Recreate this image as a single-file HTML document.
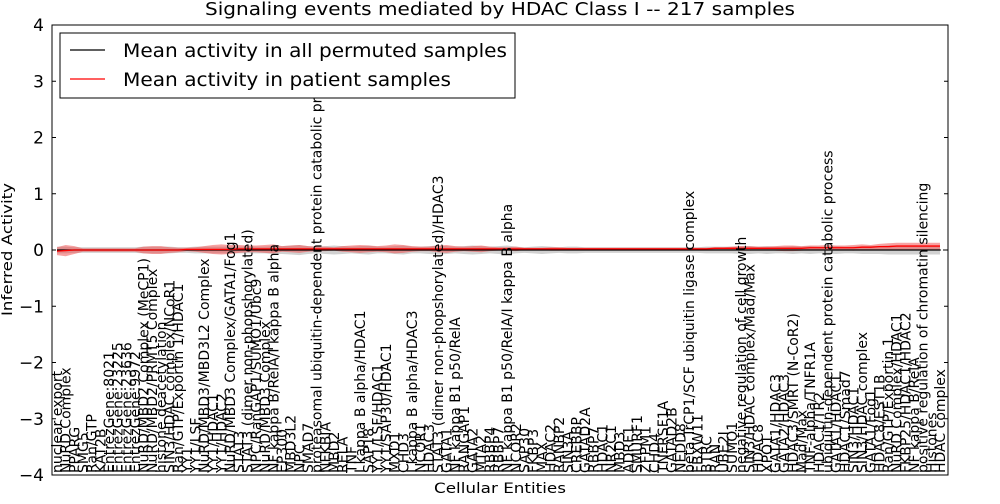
<!DOCTYPE html>
<html><head><meta charset="utf-8"><style>
body{margin:0;background:#fff;font-family:"DejaVu Sans","Liberation Sans",sans-serif}
svg text{font-family:"DejaVu Sans","Liberation Sans",sans-serif}
</style></head><body>
<svg id="chart" width="1000" height="500" xmlns="http://www.w3.org/2000/svg">
<rect width="1000" height="500" fill="#fff"/>
<text x="205" y="15" font-size="18" textLength="590" lengthAdjust="spacingAndGlyphs">Signaling events mediated by HDAC Class I -- 217 samples</text>
<g id="bands"></g>
<g id="lines"></g>
<g id="xlabels"></g>
<rect x="52" y="25" width="896" height="450" fill="none" stroke="#000" stroke-width="1"/>
<g id="yaxis"></g>
<text x="434" y="493" font-size="14" textLength="132" lengthAdjust="spacingAndGlyphs">Cellular Entities</text>
<text transform="translate(12,316) rotate(-90)" font-size="14" textLength="133" lengthAdjust="spacingAndGlyphs">Inferred Activity</text>
<g>
<rect x="60" y="33" width="455" height="65" fill="#fff" stroke="#000"/>
<line x1="70" y1="50" x2="105" y2="50" stroke="#000" stroke-width="1.2"/>
<text x="123" y="57" font-size="19" textLength="384" lengthAdjust="spacingAndGlyphs">Mean activity in all permuted samples</text>
<line x1="70" y1="79" x2="105" y2="79" stroke="#f00" stroke-width="1.2"/>
<text x="123" y="86" font-size="19" textLength="328" lengthAdjust="spacingAndGlyphs">Mean activity in patient samples</text>
</g>
</svg>
<script>
const categories=["nuclear export","NuRD Complex","PPARG","SMG5","Ran/GTP","KAT2B","EntrezGene:8021","EntrezGene:23225","EntrezGene:23636","EntrezGene:9972","NuRD/MBD2 Complex (MeCP1)","NuRD/MBD2/PRMT5 Complex","histone deacetylation","SIN3/HDAC complex/NCoR1","Ran/GTP/Exportin 1/HDAC1","YY1","YY1/LSF","NuRD/MBD3/MBD3L2 Complex","YY1/HDAC1","YY1/HDAC2","NuRD/MBD3 Complex/GATA1/Fog1","STAT3","STAT3 (dimer non-phopshorylated)","NPC/RanGAP1/SUMO1/Ubc9","NuRD/MBD3 Complex","NF kappa B/RelA/I kappa B alpha","EP300","MBD3L2","NPC","SMAD7","proteasomal ubiquitin-dependent protein catabolic pr","NFKBIA","MBD2","RELA","TNF","I kappa B alpha/HDAC1","SAP18","YY1/LSF/HDAC1","YY1/SAP30/HDAC1","MXD1","CHD3","I kappa B alpha/HDAC3","NCOR1","HDAC3","STAT3 (dimer non-phopshorylated)/HDAC3","GATA1","NF kappa B1 p50/RelA","RANGAP1","GATA2","MTA2","RBBP4","RBBP7","NF kappa B1 p50/RelA/I kappa B alpha","NCOR2","SAP30","FKBP3","MAX","HDAC2","RANBP2","SIN3A","CREBBP","GATAD2A","RBBP7","HDAC1","NR2C1","MBD3","ADRF1","SMURF1","ZFPM1","CHD4","TNFRSF1A","GATAD2B","NEDD8","beta TrCP1/SCF ubiquitin ligase complex","FBXW11","BTRC","RAN","UBE2I","SUMO1","negative regulation of cell growth","SIN3/HDAC complex/Mad/Max","HDAC8","XPO1","GATA1/HDAC3","GATA2/HDAC3","HDAC3/SMRT (N-CoR2)","Mad/Max","TNF-alpha/TNFR1A","HDAC1/TR2","ubiquitin-dependent protein catabolic process","GATA1/HDAC1","HDAC1/Smad7","SIN3/HDAC1","SIN3/HDAC complex","GATA1/Fog1","HDAC8/EST1B","Ran/GTP/Exportin 1","NuRD Complex/HDAC1","FKBP25/HDAC1/HDAC2","NF kappa B/RelA","positive regulation of chromatin silencing","Histones","HDAC complex"];
const patientMean=[-0.02,-0.01,0,0,0,0,0,0,0,0,0.0,0.0,0.0,0.0,0.0,0.01,0.01,0.01,0.01,0.01,0.01,0.02,0.02,0.02,0.02,0.02,0.02,0.02,0.02,0.02,0.02,0.02,0.02,0.02,0.02,0.02,0.02,0.02,0.02,0.02,0.02,0.02,0.02,0.02,0.02,0.02,0.02,0.02,0.02,0.02,0.02,0.02,0.02,0.02,0.02,0.02,0.02,0.02,0.02,0.02,0.02,0.02,0.02,0.02,0.02,0.02,0.02,0.02,0.02,0.02,0.02,0.02,0.02,0.02,0.02,0.02,0.03,0.03,0.03,0.03,0.03,0.03,0.03,0.03,0.03,0.03,0.03,0.04,0.04,0.04,0.04,0.04,0.04,0.05,0.05,0.06,0.06,0.07,0.07];
const patientSpread=[0.07,0.1,0.07,0.03,0.03,0.03,0.03,0.03,0.03,0.03,0.06,0.07,0.07,0.05,0.04,0.03,0.04,0.06,0.08,0.09,0.08,0.07,0.06,0.06,0.07,0.08,0.05,0.06,0.07,0.05,0.04,0.04,0.03,0.05,0.06,0.07,0.06,0.05,0.06,0.08,0.07,0.05,0.04,0.04,0.06,0.07,0.05,0.04,0.05,0.06,0.04,0.03,0.03,0.04,0.02,0.02,0.02,0.03,0.03,0.02,0.02,0.02,0.02,0.02,0.02,0.02,0.02,0.02,0.02,0.02,0.02,0.02,0.02,0.02,0.02,0.02,0.02,0.02,0.03,0.04,0.04,0.03,0.03,0.04,0.05,0.05,0.04,0.04,0.04,0.05,0.04,0.04,0.05,0.05,0.04,0.05,0.06,0.06,0.06];
const permMean=[0,0,0,0,0,0,0,0,0,0,0,0,0,0,0,0,0,0,0,0,0,0,0,0,0,0,0,0,0,0,0,0,0,0,0,0,0,0,0,0,0,0,0,0,0,0,0,0,0,0,0,0,0,0,0,0,0,0,0,0,0,0,0,0,0,0,0,0,0,0,0,0,0,0,0,0,0,0,0,0,0,0,0,0,0,0,0,0,0,0,0,0,0,0,0,0,0,0,0];
const permSpread=[0.06,0.06,0.05,0.05,0.05,0.05,0.05,0.05,0.05,0.05,0.06,0.06,0.06,0.06,0.05,0.05,0.06,0.06,0.06,0.06,0.06,0.06,0.06,0.06,0.06,0.07,0.07,0.08,0.09,0.07,0.06,0.07,0.08,0.07,0.06,0.07,0.08,0.06,0.06,0.07,0.08,0.06,0.06,0.07,0.08,0.07,0.06,0.07,0.08,0.07,0.06,0.07,0.08,0.06,0.05,0.06,0.07,0.06,0.05,0.06,0.06,0.05,0.05,0.05,0.05,0.05,0.05,0.05,0.05,0.05,0.05,0.05,0.05,0.05,0.05,0.06,0.06,0.06,0.06,0.07,0.07,0.06,0.07,0.06,0.06,0.07,0.06,0.07,0.06,0.06,0.07,0.06,0.06,0.07,0.07,0.07,0.08,0.08,0.08];
const yTicks=[-4,-3,-2,-1,0,1,2,3,4];
const NS="http://www.w3.org/2000/svg";
const plotX0=57,plotX1=940,plotTop=25,plotBot=475;
const n=categories.length;
function xs(i){return plotX0+(plotX1-plotX0)*i/(n-1);}
function ys(v){return plotBot-(v+4)/8*(plotBot-plotTop);}
function val(a,i){return (a[i]===undefined)?a[a.length-1]:a[i];}
function mk(t,a,p){const e=document.createElementNS(NS,t);for(const k in a)e.setAttribute(k,a[k]);p.appendChild(e);return e;}
function band(mean,sp,fill,name){
 let up=[],dn=[];
 for(let i=0;i<n;i++){up.push(xs(i)+","+ys(val(mean,i)+val(sp,i)));dn.push(xs(i)+","+ys(val(mean,i)-val(sp,i)));}
 const d="M"+up.join(" L")+" L"+dn.reverse().join(" L")+" Z";
 const p=mk("path",{d:d,fill:fill},document.getElementById("bands"));
 
 
}
band(permMean,permSpread,"rgba(190,190,190,0.7)","permuted-band");
band(patientMean,patientSpread,"rgba(240,70,70,0.5)","patient-band");
const lg=document.getElementById("lines");
const zl=mk("line",{x1:52,x2:948,y1:ys(0),y2:ys(0),stroke:"#000","stroke-dasharray":"1,2"},lg);


function line(arr,col,name){
 const pts=[];for(let i=0;i<n;i++)pts.push(xs(i)+","+ys(val(arr,i)));
 const l=mk("polyline",{points:pts.join(" "),fill:"none",stroke:col,"stroke-width":1.3},lg);
 
 
}
line(permMean,"#000","permuted-mean-line");
line(patientMean,"#f00","patient-mean-line");
const xl=document.getElementById("xlabels");
categories.forEach((c,i)=>{
 const t=mk("text",{transform:"translate("+(xs(i)+5)+",473) rotate(-90)","font-size":14},xl);
 t.textContent=c;
 
 
});
const ya=document.getElementById("yaxis");
yTicks.forEach(v=>{
 const y=ys(v);
 mk("line",{x1:52,x2:56,y1:y,y2:y,stroke:"#000"},ya);
 mk("line",{x1:944,x2:948,y1:y,y2:y,stroke:"#000"},ya);
 const t=mk("text",{x:44,y:y+6,"text-anchor":"end","font-size":17},ya);
 t.textContent=v<0?"\u2212"+(-v):String(v);
 
 
});
</script>
</body></html>
